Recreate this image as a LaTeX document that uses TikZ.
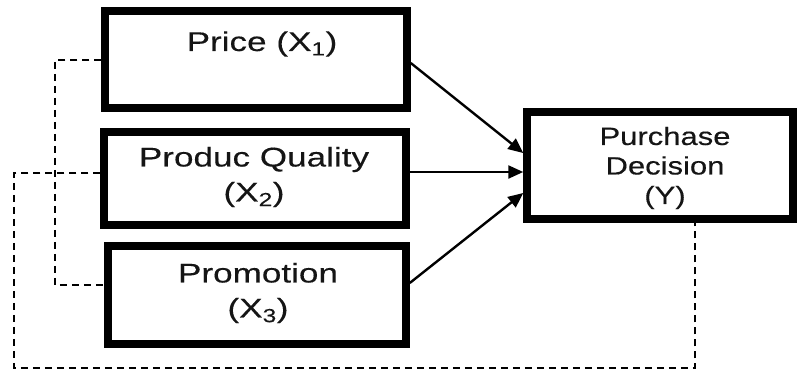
\documentclass[tikz,border=0pt]{standalone}
\usepackage{fontspec}
\setmainfont{Liberation Sans}
\newfontfamily\widefont[FakeStretch=1.3, FakeBold=0.3]{Liberation Sans}
\newfontfamily\ywidefont[FakeStretch=1.24, FakeBold=0.3]{Liberation Sans}
\usetikzlibrary{arrows.meta}
\definecolor{ink}{HTML}{151515}
\tikzset{
  varbox/.style={draw=black, line width=7.5pt, minimum width=#1, inner sep=0pt},
  boxtext/.style={text=ink, font=\widefont\fontsize{27}{35}\selectfont, align=center, inner sep=0pt},
  ytext/.style={text=ink, font=\ywidefont\fontsize{25}{29.5}\selectfont, align=center, inner sep=0pt},
  arr/.style={line width=2.4pt, -{Triangle[length=15pt, width=13pt]}},
  dashline/.style={line width=2pt, dash pattern=on 7pt off 5pt},
}
\begin{document}
\begin{tikzpicture}[x=1pt, y=-1pt]
\useasboundingbox (0,0) rectangle (798,370);
% boxes
\node[varbox=302pt, minimum height=97pt] (p) at (256,59.5) {};
\node[varbox=302pt, minimum height=93pt] (q) at (255,178.5) {};
\node[varbox=298pt, minimum height=98pt] (r) at (257,295) {};
\node[varbox=266pt, minimum height=107pt] (y) at (660,165.5) {};
% texts
\node[boxtext] (pt) at (262,44) {Price (X\textsubscript{1})};
\node[boxtext] (qt) at (254,177) {Produc Quality\\(X\textsubscript{2})};
\node[boxtext] (rt) at (258,293) {Promotion\\(X\textsubscript{3})};
\node[ytext] (yt) at (665,168) {Purchase\\Decision\\(Y)};
% arrows
\draw[arr] (p.east |- 0,63) -- (y.west |- 0,153);
\draw[arr] (q.east |- 0,172) -- (y.west |- 0,172);
\draw[arr] (r.east |- 0,283) -- (y.west |- 0,193);
% dashed correlation lines
\coordinate (c1) at (55,285);
\coordinate (c2) at (14,368);
\draw[dashline] (p.west |- 0,60) -| (c1) -- (r.west |- c1);
\draw[dashline] (q.west |- 0,173) -| (c2) -| (y.south -| 695,0);
\end{tikzpicture}
\end{document}
